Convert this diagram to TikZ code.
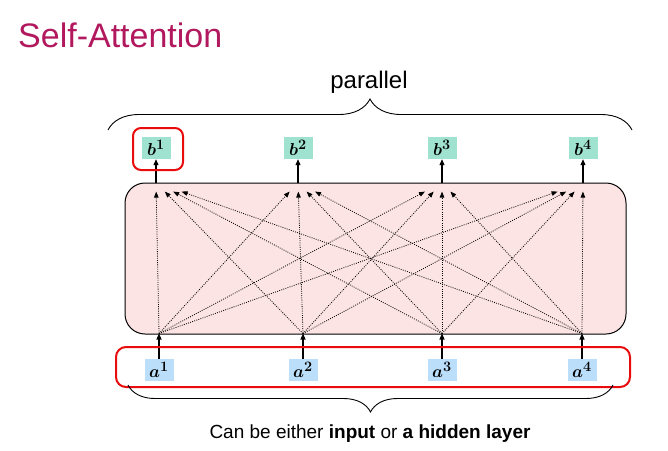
\documentclass[tikz,border=0pt]{standalone}
\usepackage{fontspec}
\setmainfont{Liberation Sans}
\usepackage{bm}
\usetikzlibrary{calc,arrows.meta,decorations.pathreplacing}
\definecolor{titlec}{RGB}{178,24,94}
\definecolor{bfill}{RGB}{160,226,208}
\definecolor{afill}{RGB}{187,222,250}
\definecolor{pinkc}{RGB}{253,228,228}
\definecolor{redc}{RGB}{232,12,12}
\tikzset{
  vec/.style={minimum width=29pt,minimum height=22pt,inner sep=0pt,font=\fontsize{19}{19}\selectfont},
  solidarr/.style={line width=1.1pt,-{Triangle[length=6pt,width=5pt]}},
  attn/.style={dash pattern=on 0.9pt off 1.3pt,line width=0.8pt,-{Triangle[length=6pt,width=4.5pt]}},
  redbox/.style={draw=redc,line width=2pt,rounded corners=8pt},
}
\begin{document}
\begin{tikzpicture}[x=1pt,y=-1pt]
\useasboundingbox (0,0) rectangle (668,450);
%title
\node[anchor=base west,inner sep=0pt,text=titlec,font=\fontsize{34}{34}\selectfont] (title) at (18,47) {Self-Attention};
%attention block
\node[draw,fill=pinkc,line width=1pt,rounded corners=20pt,minimum width=501pt,minimum height=151pt] (att) at (375.5,258.5) {};
%vectors
\foreach \i/\xa/\xb in {1/159/156,2/303/298,3/442/442,4/582/583}{
  \node[vec,fill=afill] (a\i) at (\xa,370) {$\bm{a}^{\bm{\i}}$};
  \node[vec,fill=bfill] (b\i) at (\xb,148) {$\bm{b}^{\bm{\i}}$};
  \coordinate (in\i) at ($(a\i.north |- att.south)+(0,-1)$);
  \coordinate (out\i) at (b\i.south |- att.north);
  \draw[solidarr] (a\i.north) -- (in\i);
  \draw[solidarr] (out\i) -- (b\i.south);
}
%all pairs
\foreach \i in {1,...,4}{
  \foreach \j in {1,...,4}{\draw[attn] (in\i) -- ($(in\i)!0.94!(out\j)$);}
}
%highlights
\draw[redbox] (133,128) rectangle (183,170);
\draw[redbox,rounded corners=10pt] (116,347) rectangle (630,387);
%braces
\draw[line width=0.9pt,decorate,decoration={brace,amplitude=31pt}] (108,130) -- (632,130);
\node[anchor=base,inner sep=0pt,font=\fontsize{24}{24}\selectfont] (par) at (369,88) {parallel};
\draw[line width=0.9pt,decorate,decoration={brace,amplitude=27pt}] (613,385) -- (128,385);
\node[anchor=base,inner sep=0pt,font=\fontsize{19}{19}\selectfont] (note) at (370,438) {Can be either \textbf{input} or \textbf{a hidden layer}};
\end{tikzpicture}
\end{document}
